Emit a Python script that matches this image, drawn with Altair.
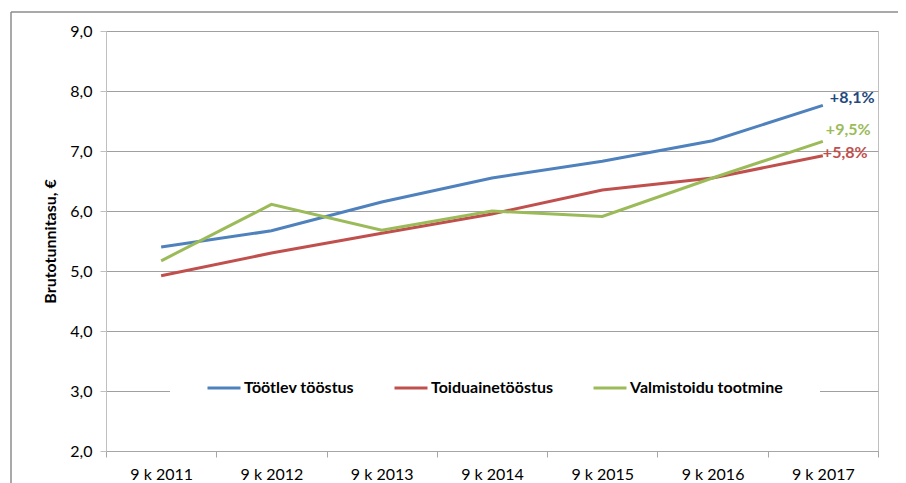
import altair as alt
import pandas as pd

periods = ["9 k 2011", "9 k 2012", "9 k 2013", "9 k 2014", "9 k 2015", "9 k 2016", "9 k 2017"]
series_names = ["Töötlev tööstus", "Toiduainetööstus", "Valmistoidu tootmine"]
tootlev = [5.40, 5.67, 6.15, 6.55, 6.83, 7.17, 7.76]
toiduaine = [4.92, 5.30, 5.63, 5.95, 6.35, 6.55, 6.92]
valmistoidu = [5.17, 6.11, 5.68, 6.00, 5.91, 6.55, 7.16]
change_labels = ["+8,1%", "+5,8%", "+9,5%"]
colors = ["#4F81BD", "#C0504D", "#9BBB59"]
label_colors = ["#1F497D", "#C0504D", "#9BBB59"]

rows = []
for name, vals in zip(series_names, [tootlev, toiduaine, valmistoidu]):
    for p, v in zip(periods, vals):
        rows.append({"period": p, "series": name, "value": v})
df = pd.DataFrame(rows)

lab_df = pd.DataFrame({
    "period": [periods[-1]] * 3,
    "series": series_names,
    "value": [tootlev[-1], toiduaine[-1], valmistoidu[-1]],
    "label": change_labels,
})

FONT = "Lato"

x_enc = alt.X(
    "period:N",
    sort=periods,
    bandPosition=0.5,
    scale=alt.Scale(type="band", paddingInner=0, paddingOuter=0),
    axis=alt.Axis(
        title=None, labelAngle=0, tickBand="extent", tickSize=6,
        labelFontSize=16, labelFont=FONT, labelColor="#000000", labelPadding=9,
        domainColor="#A6A6A6", tickColor="#A6A6A6", grid=False,
    ),
)
y_enc = alt.Y(
    "value:Q",
    scale=alt.Scale(domain=[2, 9], nice=False, zero=False),
    axis=alt.Axis(
        title="Brutotunnitasu, €", titleFont=FONT, titleFontSize=16, titleFontWeight="bold",
        titleColor="#000000", titlePadding=11,
        values=[2, 3, 4, 5, 6, 7, 8, 9],
        labelExpr="replace(format(datum.value, '.1f'), '.', ',')",
        labelFontSize=16, labelFont=FONT, labelColor="#000000", labelPadding=8,
        tickSize=6, tickColor="#BFBFBF", domainColor="#BFBFBF",
        grid=True, gridColor="#A0A0A0", gridWidth=1,
    ),
)

lines = alt.Chart(df).mark_line(strokeWidth=3).encode(
    x=x_enc,
    y=y_enc,
    color=alt.Color(
        "series:N",
        sort=series_names,
        scale=alt.Scale(domain=series_names, range=colors),
        legend=alt.Legend(
            title=None, orient="none", direction="horizontal",
            legendX=64, legendY=303, padding=36,
            fillColor="#FFFFFF", strokeColor="#FFFFFF",
            symbolType="stroke", symbolSize=1089, symbolStrokeWidth=3,
            labelFont=FONT, labelFontSize=16, labelFontWeight="bold", labelColor="#000000",
            labelOffset=2, columnPadding=33,
        ),
    ),
)

label_layers = []
offsets = [(7, -7), (0, -3), (3, -11)]
for i, name in enumerate(series_names):
    d = lab_df[lab_df["series"] == name]
    dx, dy = offsets[i]
    label_layers.append(
        alt.Chart(d).mark_text(
            align="left", baseline="middle", dx=dx, dy=dy,
            font=FONT, fontSize=16, fontWeight="bold", color=label_colors[i],
        ).encode(
            x=alt.X("period:N", sort=periods, bandPosition=0.5),
            y=alt.Y("value:Q"),
            text="label:N",
        )
    )

frame_df = pd.DataFrame({"k": [0]})
frame_left = alt.Chart(frame_df).mark_rule(color="#8C8C8C", strokeWidth=1.5, clip=False).encode(
    x=alt.value(-95), y=alt.value(-19), y2=alt.value(470)
)
frame_top = alt.Chart(frame_df).mark_rule(color="#8C8C8C", strokeWidth=1.5, clip=False).encode(
    x=alt.value(-95), x2=alt.value(800), y=alt.value(-19)
)

chart = alt.layer(lines, *label_layers, frame_left, frame_top).properties(
    width=772, height=420,
    autosize=alt.AutoSizeParams(type="none"),
    padding={"left": 98, "top": 23, "right": 20, "bottom": 44},
    background="#FFFFFF",
).configure_view(stroke="#BFBFBF", strokeWidth=1)

chart.save("out.html", embed_options={"renderer": "svg", "actions": False})
